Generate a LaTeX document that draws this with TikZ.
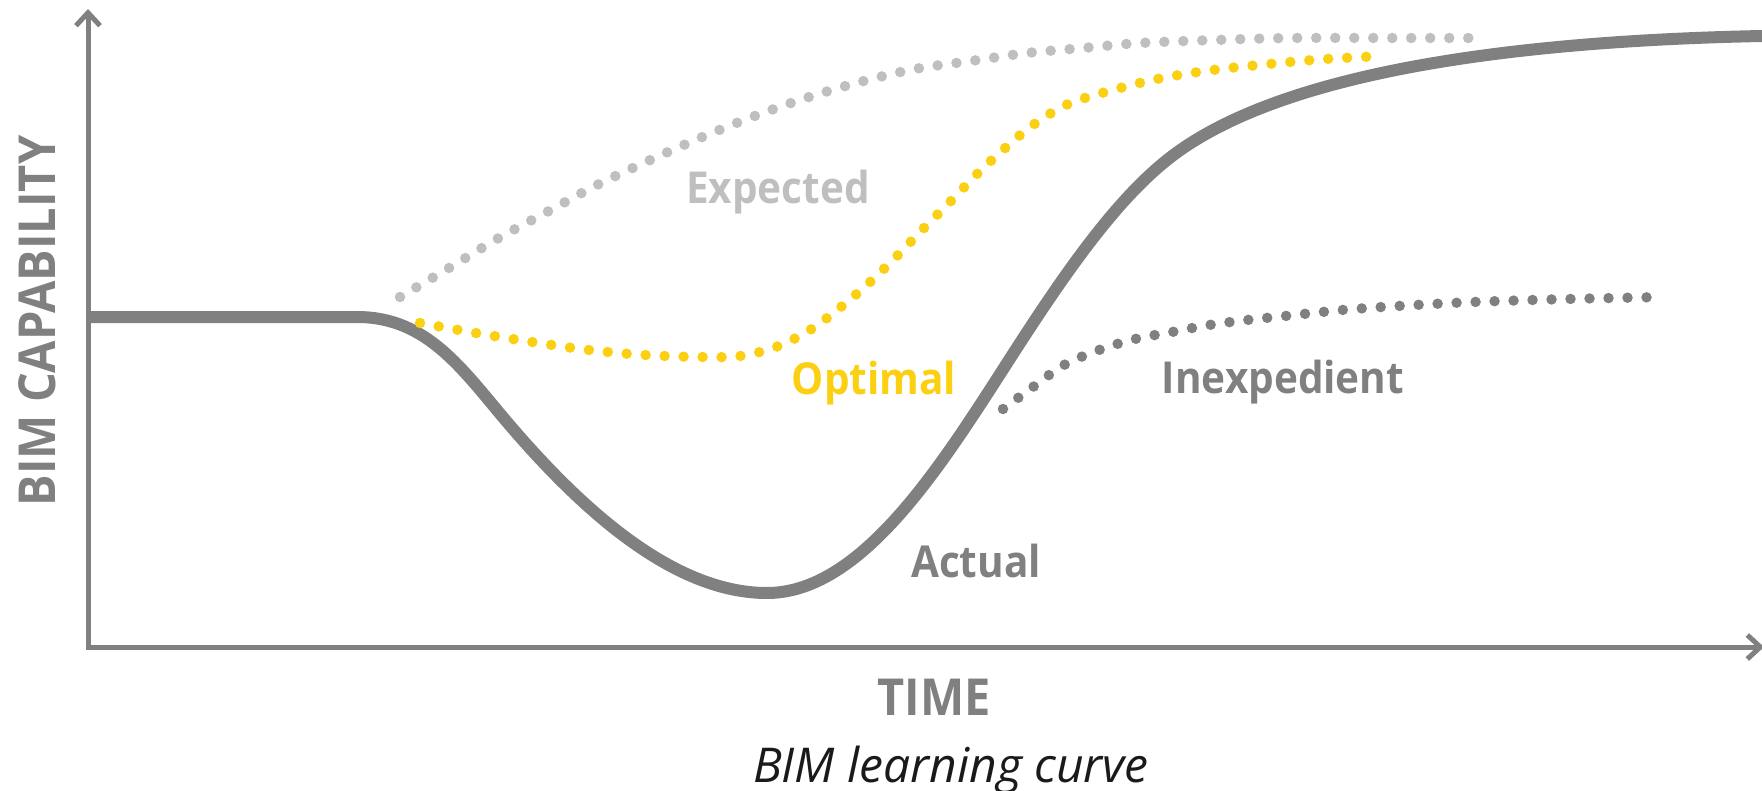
\documentclass[tikz,border=0pt]{standalone}
\usepackage{fontspec}
\setmainfont{Open Sans}
\newfontfamily\sbf{Open Sans}[FakeStretch=0.92]
\usetikzlibrary{arrows.meta}
\definecolor{cgray}{HTML}{808080}
\definecolor{clight}{HTML}{BFBFBF}
\definecolor{cyellow}{HTML}{FCD012}
\definecolor{cblack}{HTML}{1A1A1A}
\tikzset{
  axisline/.style={cgray, line width=5pt, -{Straight Barb[length=13pt,width=24pt]}},
  actualcurve/.style={cgray, line width=12pt},
  dotcurve/.style={line width=10.5pt, line cap=round, dash pattern=on 0pt off 19pt},
  lbl/.style={font=\sbf\bfseries\fontsize{44}{50}\selectfont, anchor=base, inner sep=0pt},
  biglbl/.style={font=\sbf\bfseries\fontsize{51}{58}\selectfont, anchor=base, inner sep=0pt, text=cgray},
}
\begin{document}
\begin{tikzpicture}[x=1pt,y=-1pt]
\useasboundingbox (0,0) rectangle (1762,790);
\coordinate (O) at (88,647);
\coordinate (Ytop) at (88,9);
\coordinate (Xend) at (1764,647);
\draw[axisline] ([yshift=2.5pt]O) -- (Ytop);
\draw[axisline] ([xshift=-2.5pt]O) -- (Xend);
% actual curve
\coordinate (a0) at (88,317);
\coordinate (a1) at (357,317);
\coordinate (a2) at (507,422);
\coordinate (a3) at (767,593);
\coordinate (a4) at (1020,343);
\coordinate (a5) at (1167,160);
\coordinate (a6) at (1762,36);
\draw[actualcurve] (a0) -- (a1)
  .. controls (427,317) and (462,369) .. (a2)
  .. controls (587,516) and (677,593) .. (a3)
  .. controls (867,593) and (950,451) .. (a4)
  .. controls (1070,266) and (1117,200) .. (a5)
  .. controls (1277,72) and (1512,41) .. (a6);
% expected
\draw[dotcurve, clight] plot[smooth, tension=0.55] coordinates {(400,297) (449,268) (497,239) (547,212) (597,185) (648,161) (700,138) (752,117) (806,98) (860,82) (915,69) (971,61) (1027,53) (1083,48) (1140,43) (1215,40) (1291,38) (1400,38) (1480,38)};
% optimal
\draw[dotcurve, cyellow] plot[smooth, tension=0.55] coordinates {(420,323) (476,333) (532,342) (589,350) (645,355) (702,357) (740,356) (776,347) (810,330) (841,307) (869,283) (897,256) (923,229) (950,202) (976,175) (1004,149) (1033,125) (1066,105) (1102,93) (1157,79) (1213,70) (1269,64) (1326,59) (1384,56)};
% inexpedient
\draw[dotcurve, cgray] plot[smooth, tension=0.55] coordinates {(1003,409) (1033,387) (1064,365) (1099,350) (1135,339) (1172,332) (1209,325) (1247,320) (1285,316) (1342,310) (1398,306) (1473,302) (1568,299) (1664,297)};
% labels
\node[lbl, text=clight] (expected) at (778,203) {Expected};
\node[lbl, text=cyellow] (optimal) at (874,394) {Optimal};
\node[lbl, text=cgray] (actual) at (976,577) {Actual};
\node[lbl, text=cgray] (inexpedient) at (1283,393) {Inexpedient};
\node[biglbl] (time) at (934,715) {TIME};
\node[biglbl, rotate=90] (cap) at (55,321) {BIM CAPABILITY};
\node[anchor=base, inner sep=0pt, text=cblack, font=\itshape\fontsize{48}{54}\selectfont] (title) at (951,782) {BIM learning curve};
\end{tikzpicture}
\end{document}
